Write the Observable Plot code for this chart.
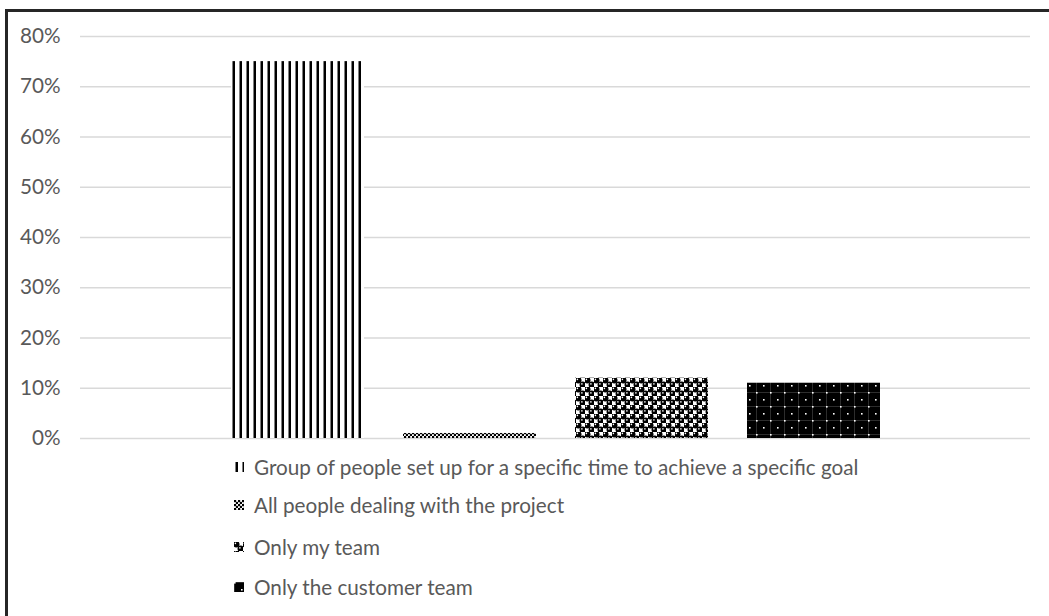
<!DOCTYPE html>
<html>
<head>
<meta charset="utf-8">
<script src="https://cdn.jsdelivr.net/npm/d3@7"></script>
<script src="https://cdn.jsdelivr.net/npm/@observablehq/plot@0.6"></script>
<style>
  html, body { margin: 0; padding: 0; background: #fff; overflow: hidden; }
  body { width: 1049px; height: 616px; position: relative; font-family: Lato, "Open Sans", sans-serif; }
  #frame { position: absolute; left: 5px; top: 9px; width: 1100px; height: 700px; border-left: 3px solid #262626; border-top: 3px solid #262626; box-sizing: border-box; }
  #chart { position: absolute; left: 0; top: 0; }
  .leg { position: absolute; left: 234px; height: 24px; line-height: 24px; font-size: 20.7px; color: #595959; white-space: nowrap; display: flex; align-items: center; }
  .leg svg { margin-right: 10px; }
</style>
</head>
<body>
<svg width="0" height="0" style="position:absolute">
  <defs>
    <pattern id="p1" width="7" height="7" patternUnits="userSpaceOnUse" x="232">
      <rect width="7" height="7" fill="#fff"/>
      <rect x="0.5" width="2.5" height="7" fill="#000"/>
    </pattern>
    <pattern id="p2" width="4" height="4" patternUnits="userSpaceOnUse">
      <rect width="4" height="4" fill="#fff"/>
      <circle cx="1" cy="1" r="1.3" fill="#000"/>
      <circle cx="3" cy="3" r="1.3" fill="#000"/>
    </pattern>
    <pattern id="p3" width="9" height="9" patternUnits="userSpaceOnUse">
      <rect width="9" height="9" fill="#fff"/>
      <circle cx="2.25" cy="2.25" r="3.2" fill="#000"/>
      <circle cx="6.75" cy="6.75" r="3.2" fill="#000"/>
      <circle cx="5.9" cy="5.9" r="0.8" fill="#fff"/>
      <circle cx="1.4" cy="1.4" r="0.8" fill="#fff"/>
    </pattern>
    <pattern id="p4" width="14" height="14" patternUnits="userSpaceOnUse">
      <rect width="14" height="14" fill="#000"/>
      <line x1="0" y1="0.25" x2="14" y2="0.25" stroke="#777" stroke-width="0.5"/>
      <line x1="0.25" y1="0" x2="0.25" y2="14" stroke="#777" stroke-width="0.5"/>
      <rect x="0" y="0" width="1.6" height="1.6" fill="#fff"/>
      <rect x="7" y="7" width="1.6" height="1.6" fill="#fff"/>
    </pattern>
  </defs>
</svg>
<div id="chart"></div>
<div id="frame"></div>
<div id="legend"></div>
<script>
const categories = [
  "Group of people set up for a specific time to achieve a specific goal",
  "All people dealing with the project",
  "Only my team",
  "Only the customer team"
];
const values = [0.75, 0.01, 0.12, 0.11];
const yTicks = [0, 0.1, 0.2, 0.3, 0.4, 0.5, 0.6, 0.7, 0.8];
const patterns = ["p1", "p2", "p3", "p4"];

const data = categories.map((c, i) => ({cat: c, value: values[i], fill: `url(#${patterns[i]})`}));

const chart = Plot.plot({
  width: 1049,
  height: 450,
  marginLeft: 80,
  marginRight: 19,
  marginTop: 36,
  marginBottom: 12,
  style: {background: "transparent", fontFamily: "Lato, 'Open Sans', sans-serif", fontSize: "20.7px", color: "#595959"},
  x: {domain: categories, paddingInner: 0.227, paddingOuter: 0.875, axis: null},
  y: {domain: [0, 0.8], label: null},
  color: {type: "identity"},
  marks: [
    Plot.gridY(yTicks, {stroke: "#d9d9d9", strokeOpacity: 1, strokeWidth: 1.5}),
    Plot.axisY(yTicks, {tickSize: 0, tickPadding: 20, tickFormat: d => Math.round(d * 100) + "%", fill: "#595959", fontSize: 20.7, label: null}),
    Plot.barY(data, {x: "cat", y: "value", fill: "fill"})
  ]
});
document.getElementById("chart").appendChild(chart);

const legendTops = [455, 493, 535, 575];
const legend = document.getElementById("legend");
categories.forEach((c, i) => {
  const row = document.createElement("div");
  row.className = "leg";
  row.style.top = legendTops[i] + "px";
  row.innerHTML = `<svg width="10" height="10"><rect width="10" height="10" fill="url(#${patterns[i]})"/></svg><span>${c}</span>`;
  legend.appendChild(row);
});
</script>
</body>
</html>
